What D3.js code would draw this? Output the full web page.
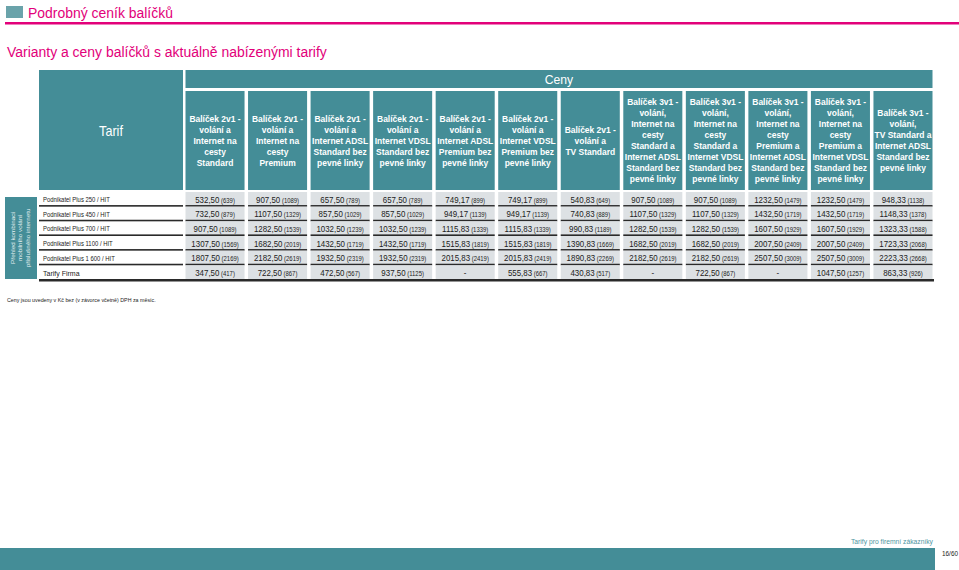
<!DOCTYPE html>
<html><head><meta charset="utf-8">
<script src="https://cdn.jsdelivr.net/npm/d3@7"></script>
<style>
html,body{margin:0;padding:0;background:#fff;}
svg{display:block;font-family:"Liberation Sans",Arial,sans-serif;}
</style></head>
<body><svg id="c" width="959" height="570"></svg>
<script>
// ---------- DATA ----------
const packages = [
  ["Balíček 2v1 -","volání a","Internet na","cesty","Standard"],
  ["Balíček 2v1 -","volání a","Internet na","cesty","Premium"],
  ["Balíček 2v1 -","volání a","Internet ADSL","Standard bez","pevné linky"],
  ["Balíček 2v1 -","volání a","Internet VDSL","Standard bez","pevné linky"],
  ["Balíček 2v1 -","volání a","Internet ADSL","Premium bez","pevné linky"],
  ["Balíček 2v1 -","volání a","Internet VDSL","Premium bez","pevné linky"],
  ["Balíček 2v1 -","volání a","TV Standard"],
  ["Balíček 3v1 -","volání,","Internet na","cesty","Standard a","Internet ADSL","Standard bez","pevné linky"],
  ["Balíček 3v1 -","volání,","Internet na","cesty","Standard a","Internet VDSL","Standard bez","pevné linky"],
  ["Balíček 3v1 -","volání,","Internet na","cesty","Premium a","Internet ADSL","Standard bez","pevné linky"],
  ["Balíček 3v1 -","volání,","Internet na","cesty","Premium a","Internet VDSL","Standard bez","pevné linky"],
  ["Balíček 3v1 -","volání,","TV Standard a","Internet ADSL","Standard bez","pevné linky"]
];
const tariffs = ["Podnikatel Plus 250 / HIT","Podnikatel Plus 450 / HIT","Podnikatel Plus 700 / HIT",
  "Podnikatel Plus 1100 / HIT","Podnikatel Plus 1 600 / HIT","Tarify Firma"];
const pricesNet = [
  [532.50, 907.50, 657.50, 657.50, 749.17, 749.17, 540.83, 907.50, 907.50, 1232.50, 1232.50, 948.33],
  [732.50, 1107.50, 857.50, 857.50, 949.17, 949.17, 740.83, 1107.50, 1107.50, 1432.50, 1432.50, 1148.33],
  [907.50, 1282.50, 1032.50, 1032.50, 1115.83, 1115.83, 990.83, 1282.50, 1282.50, 1607.50, 1607.50, 1323.33],
  [1307.50, 1682.50, 1432.50, 1432.50, 1515.83, 1515.83, 1390.83, 1682.50, 1682.50, 2007.50, 2007.50, 1723.33],
  [1807.50, 2182.50, 1932.50, 1932.50, 2015.83, 2015.83, 1890.83, 2182.50, 2182.50, 2507.50, 2507.50, 2223.33],
  [347.50, 722.50, 472.50, 937.50, null, 555.83, 430.83, null, 722.50, null, 1047.50, 863.33]
];
const pricesGross = [
  [639, 1089, 789, 789, 899, 899, 649, 1089, 1089, 1479, 1479, 1138],
  [879, 1329, 1029, 1029, 1139, 1139, 889, 1329, 1329, 1719, 1719, 1378],
  [1089, 1539, 1239, 1239, 1339, 1339, 1189, 1539, 1539, 1929, 1929, 1588],
  [1569, 2019, 1719, 1719, 1819, 1819, 1669, 2019, 2019, 2409, 2409, 2068],
  [2169, 2619, 2319, 2319, 2419, 2419, 2269, 2619, 2619, 3009, 3009, 2668],
  [417, 867, 567, 1125, null, 667, 517, null, 867, null, 1257, 926]
];
const titleText = "Podrobný ceník balíčků";
const subtitleText = "Varianty a ceny balíčků s aktuálně nabízenými tarify";
const tarifHeader = "Tarif";
const cenyHeader = "Ceny";
const sideLabel = ["Přehled kombinací","mobilního volání","příslušného internetu"];
const footnote = "Ceny jsou uvedeny v Kč bez (v závorce včetně) DPH za měsíc.";
const footerText = "Tarify pro firemní zákazníky";
const pageText = "16/60";

// ---------- STYLE ----------
const teal = "#448d97", grey = "#dde1e4", pink = "#e2007a", sx = 0.9;
const svg = d3.select("#c");
const loc = d3.formatLocale({decimal: ",", thousands: "", grouping: [3], currency: ["", ""]});
const fmt = loc.format(".2f");

function T(x, y, size, opts = {}) {
  const t = svg.append("text")
    .attr("transform", `translate(${x},${y}) scale(${sx},1)` + (opts.rot ? ` rotate(${opts.rot})` : ""))
    .attr("font-size", size)
    .attr("fill", opts.fill || "#222")
    .attr("text-anchor", opts.anchor || "start");
  if (opts.bold) t.attr("font-weight", "bold");
  return t;
}

// header strip
svg.append("rect").attr("x", 6).attr("y", 6).attr("width", 17).attr("height", 12).attr("fill", "#6aa3aa");
T(28, 18, 15.5, {fill: pink}).text(titleText);
svg.append("rect").attr("x", 5).attr("y", 22).attr("width", 954).attr("height", 2.5).attr("fill", pink);
T(7, 56.5, 15.5, {fill: pink}).text(subtitleText);

// scales
const x = d3.scaleBand().domain(d3.range(packages.length)).range([185.5, 932.5]).paddingInner(0.056);
const y = d3.scaleBand().domain(tariffs).range([192, 280]);
const labelX0 = 39, labelX1 = 183;

// Tarif header
svg.append("rect").attr("x", labelX0).attr("y", 70).attr("width", labelX1 - labelX0).attr("height", 120).attr("fill", teal);
T((labelX0 + labelX1) / 2, 135.5, 14, {fill: "#fff", anchor: "middle"}).text(tarifHeader);

// Ceny header
svg.append("rect").attr("x", x(0)).attr("y", 70).attr("width", x(11) + x.bandwidth() - x(0)).attr("height", 18).attr("fill", teal);
T((x(0) + x(11) + x.bandwidth()) / 2, 84, 13.5, {fill: "#fff", anchor: "middle"}).text(cenyHeader);

// column headers
const lh = 11;
packages.forEach((lines, i) => {
  svg.append("rect").attr("x", x(i)).attr("y", 91).attr("width", x.bandwidth()).attr("height", 99).attr("fill", teal);
  const cy = 140.5, y0 = cy - (lines.length - 1) * lh / 2 + 3.4;
  const t = T(x(i) + x.bandwidth() / 2, y0, 9.4, {fill: "#fff", anchor: "middle", bold: true});
  lines.forEach((l, k) => t.append("tspan").attr("x", 0).attr("y", k * lh).text(l));
});

// side label box
svg.append("rect").attr("x", 5).attr("y", 197).attr("width", 32).attr("height", 82).attr("fill", teal);
sideLabel.forEach((l, k) => {
  T(14.5 + k * 7.5, 238, 6.3, {fill: "#e8f2f3", anchor: "middle", rot: -90}).text(l);
});

// rows
tariffs.forEach((tr, r) => {
  const yy = y(tr), h = y.bandwidth(), last = r === tariffs.length - 1;
  T(43, yy + h / 2 + (last ? 3 : 2.5), last ? 7.8 : 6.6).text(tr);
  if (!last) svg.append("rect").attr("x", labelX0).attr("y", yy + h - 1.6).attr("width", labelX1 - labelX0).attr("height", 1.6).attr("fill", "#2a2a2a");
  pricesNet[r].forEach((v, c) => {
    svg.append("rect").attr("x", x(c)).attr("y", yy).attr("width", x.bandwidth()).attr("height", h).attr("fill", grey);
    const t = T(x(c) + x.bandwidth() / 2, yy + h / 2 + 3.2, 8.8, {anchor: "middle"});
    if (v == null) { t.text("-"); }
    else {
      t.append("tspan").text(fmt(v));
      t.append("tspan").attr("font-size", 6.6).text(" (" + pricesGross[r][c] + ")");
    }
    if (!last) svg.append("rect").attr("x", x(c)).attr("y", yy + h - 1.6).attr("width", x.bandwidth()).attr("height", 1.6).attr("fill", "#2a2a2a");
  });
});
// bottom rule
svg.append("rect").attr("x", labelX0).attr("y", y.range()[1] - 1).attr("width", 934 - labelX0).attr("height", 2.5).attr("fill", "#2a2a2a");

// footnote
T(7, 302, 5.9).text(footnote);

// footer
T(933, 544, 7.5, {fill: "#4f95a0", anchor: "end"}).text(footerText);
svg.append("rect").attr("x", 0).attr("y", 548).attr("width", 935).attr("height", 22).attr("fill", teal);
T(958, 556, 7.1, {anchor: "end"}).text(pageText);
</script></body></html>
